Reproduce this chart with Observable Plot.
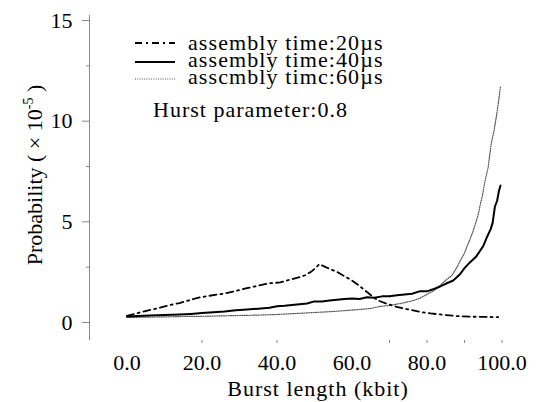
<!DOCTYPE html>
<html><head><meta charset="utf-8">
<script src="https://cdn.jsdelivr.net/npm/d3@7"></script>
<script src="https://cdn.jsdelivr.net/npm/@observablehq/plot@0.6"></script>
<style>
body{margin:0;background:#fff}
svg{font-family:"Liberation Serif",serif}
</style>
</head><body><div id="chart"></div>
<script>
// Burst length (kbit) and probability (x10^-5) for each assembly time
const burst20 = [0,4,8,11,14,17,19.5,22,25.6,29,32,35,38,40.8,42.7,44.3,46,47.5,49.3,50.5,51.3,53,54.5,56.3,58,60,61.8,63.5,65,67,69,71.5,74,76.3,78.5,81,84,88,92,95,99];
const prob20  = [0.08,0.28,0.45,0.6,0.72,0.88,1.0,1.08,1.18,1.32,1.46,1.58,1.7,1.74,1.84,1.92,2.0,2.1,2.3,2.5,2.65,2.5,2.38,2.24,2.05,1.84,1.6,1.34,1.12,0.84,0.7,0.55,0.44,0.35,0.27,0.2,0.14,0.07,0.04,0.03,0.02];

const burst40 = [0,3,6,10,14,17,20,23,26,29,32,35,38,40,42,44,46,48,50,52,54,56,58,60,62,64,66,68,70,72,74,76,78,80,81.6,83,85.3,87,88.8,90,91.5,93,94.1,95,96,97,97.5,98.1,98.7,99.2,99.6];
const prob40  = [0.05,0.07,0.1,0.12,0.15,0.18,0.22,0.26,0.3,0.36,0.4,0.44,0.48,0.56,0.58,0.62,0.66,0.7,0.8,0.8,0.84,0.88,0.92,0.95,0.92,1.01,0.98,1.05,1.06,1.1,1.14,1.18,1.3,1.3,1.4,1.5,1.7,1.84,2.15,2.45,2.75,3.0,3.3,3.55,4.0,4.4,4.7,5.5,5.8,6.3,6.55];

const burst60 = [0,5,10,15,20,25,30,35,40,45,50,55,58.6,62,65,67.5,70,73,76.3,78,80,82,83.5,85,86.7,88,88.8,90,90.6,91.5,92.3,93,93.7,94.3,94.7,95.5,96.3,97.1,97.9,98.6,99.2,99.6];
const prob60  = [0.0,0.02,0.03,0.05,0.06,0.08,0.1,0.12,0.15,0.2,0.25,0.3,0.35,0.4,0.45,0.55,0.6,0.7,0.84,0.95,1.15,1.35,1.6,1.85,2.1,2.5,2.8,3.2,3.5,3.9,4.3,4.7,5.15,5.7,6.0,6.8,7.45,8.6,9.3,10.1,10.9,11.5];

const seriesNames = ["assembly time:20\u00b5s","assembly time:40\u00b5s","asscmbly timc:60\u00b5s"];
const noteText = "Hurst parameter:0.8";
const xTickLabels = [0,20,40,60,80,100];
const xTickMarks = [20,40,70,80,90,100];
const yTickLabels = [0,5,10,15];
const yMinorTicks = [2.5,7.5,12.5];
const xTitle = "Burst length (kbit)";

const toRows = (xs, ys) => xs.map((x, i) => ({x, y: ys[i]}));
const d20 = toRows(burst20, prob20);
const d40 = toRows(burst40, prob40);
const d60 = toRows(burst60, prob60);

const chart = Plot.plot({
  width: 540, height: 402,
  marginLeft: 89, marginRight: 23.5, marginTop: 15, marginBottom: 62,
  x: {domain: [-10, 104]},
  y: {domain: [-1.142, 15]},
  style: {fontFamily: "Liberation Serif", fontSize: "22px", color: "#000", background: "#fff", overflow: "visible"},
  marks: [
    Plot.ruleX([-10], {stroke: "#888"}),
    Plot.axisY({ticks: yTickLabels, tickSize: 7, tickPadding: 10, stroke: "#888", fill: "#000", label: null, fontSize: 22, dy: 5}),
    Plot.axisY({ticks: yMinorTicks, tickSize: 3, stroke: "#888", fill: "none", label: null}),
    Plot.axisX({ticks: xTickMarks, tickSize: 3, stroke: "#888", fill: "none", label: null}),
    Plot.axisX({ticks: xTickLabels, tickSize: 0, tickPadding: 14, tickFormat: d => d.toFixed(1), fill: "#000", label: null, fontSize: 22}),
    Plot.line(d60, {x: "x", y: "y", stroke: "#555", strokeWidth: 1.2, strokeDasharray: "1,1.3"}),
    Plot.line(d20, {x: "x", y: "y", stroke: "#000", strokeWidth: 1.8, strokeDasharray: "7,4,2,4"}),
    Plot.line(d40, {x: "x", y: "y", stroke: "#000", strokeWidth: 2})
  ]
});
document.getElementById("chart").appendChild(chart);

const svg = d3.select(chart);
// Legend
const legStyles = [
  {dash: "7,4,2,4", color: "#000", w: 1.8},
  {dash: null, color: "#000", w: 2},
  {dash: "1,1.3", color: "#555", w: 1.2}
];
const lineY = [43, 62, 79];
const textY = [50, 67, 84];
const leg = svg.append("g").attr("text-anchor", "start");
seriesNames.forEach((name, i) => {
  const s = legStyles[i];
  const ln = leg.append("line").attr("x1", 135).attr("x2", 175).attr("y1", lineY[i]).attr("y2", lineY[i])
    .attr("stroke", s.color).attr("stroke-width", s.w);
  if (s.dash) ln.attr("stroke-dasharray", s.dash);
  leg.append("text").attr("x", 188).attr("y", textY[i]).attr("font-size", 22).attr("text-anchor", "start")
    .attr("letter-spacing", 1.1).attr("fill", "#000").text(name);
});
leg.append("text").attr("x", 153).attr("y", 117).attr("font-size", 22).attr("text-anchor", "start")
  .attr("letter-spacing", 1).attr("fill", "#000").text(noteText);

// Axis titles
svg.append("text").attr("x", 318).attr("y", 396).attr("text-anchor", "middle")
  .attr("font-size", 22).attr("letter-spacing", 1).attr("fill", "#000").text(xTitle);
const yl = svg.append("text").attr("transform", "translate(42,175) rotate(-90)")
  .attr("text-anchor", "middle").attr("font-size", 22).attr("fill", "#000");
yl.append("tspan").text("Probability ( \u00d7 10");
yl.append("tspan").attr("font-size", 14).attr("dy", -9).text("-5");
yl.append("tspan").attr("dy", 9).text(" )");
</script>
</body></html>
